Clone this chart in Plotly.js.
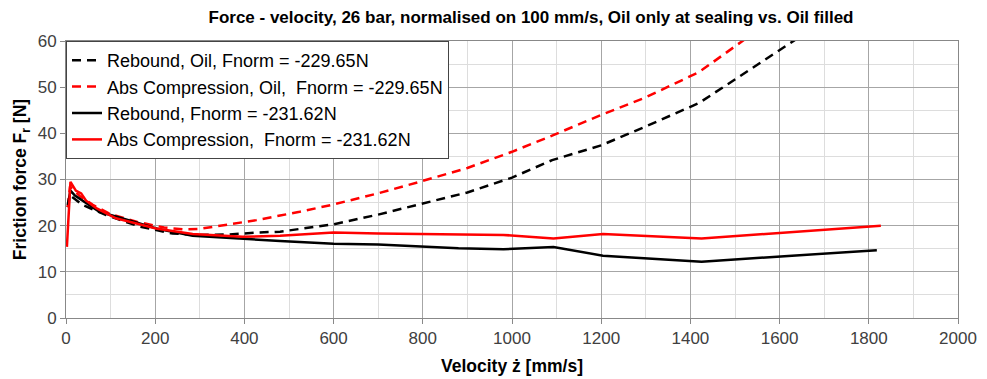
<!DOCTYPE html>
<html>
<head>
<meta charset="utf-8">
<script src="https://cdn.plot.ly/plotly-3.0.1.min.js"></script>
<style>html,body{margin:0;padding:0;background:#fff}#chart{width:987px;height:379px}</style>
</head>
<body>
<div id="chart"></div>
<script>
// Series names
const seriesNames = [
  "Rebound, Oil, Fnorm = -229.65N",
  "Abs Compression, Oil,  Fnorm = -229.65N",
  "Rebound, Fnorm = -231.62N",
  "Abs Compression,  Fnorm = -231.62N"
];

// Rebound, Oil (dashed black)
const reboundOilX = [4, 9, 37, 90, 165, 239, 300, 367, 427, 480, 600, 700, 800, 900, 1000, 1090, 1200, 1300, 1420, 1820];
const reboundOilY = [24.0, 26.6, 24.5, 22.3, 19.8, 18.3, 18.0, 18.1, 18.5, 18.7, 20.3, 22.4, 24.8, 27.2, 30.4, 34.2, 37.4, 41.5, 46.6, 72.0];

// Abs Compression, Oil (dashed red)
const compOilX = [4, 9, 30, 60, 100, 160, 220, 262, 300, 352, 427, 480, 524, 600, 700, 800, 900, 1000, 1090, 1200, 1300, 1420, 1820];
const compOilY = [24.0, 28.5, 26.5, 24.5, 22.5, 20.8, 19.6, 19.2, 19.3, 20.1, 21.2, 22.2, 23.0, 24.6, 27.0, 29.7, 32.5, 36.0, 39.5, 44.0, 47.8, 53.3, 81.0];

// Rebound (solid black)
const reboundX = [4, 10, 20, 40, 75, 150, 210, 284, 396, 480, 600, 700, 880, 981, 1093, 1204, 1425, 1818];
const reboundY = [24.5, 27.6, 26.5, 25.2, 23.0, 20.9, 19.2, 17.8, 17.1, 16.7, 16.1, 15.9, 15.1, 14.9, 15.4, 13.5, 12.2, 14.7];

// Abs Compression (solid red)
const compX = [2, 10, 22, 34, 45, 68, 112, 157, 202, 284, 396, 480, 600, 700, 981, 1093, 1204, 1425, 1827];
const compY = [15.4, 29.5, 27.6, 27.0, 25.4, 23.8, 21.6, 20.5, 19.4, 18.2, 17.6, 17.8, 18.5, 18.3, 18.0, 17.2, 18.2, 17.2, 20.0];

const traces = [
  {x: reboundOilX, y: reboundOilY, name: seriesNames[0], mode: 'lines',
   line: {color: '#000000', width: 2.5, dash: '9px,6px'}},
  {x: compOilX, y: compOilY, name: seriesNames[1], mode: 'lines',
   line: {color: '#ff0000', width: 2.5, dash: '9px,6px'}},
  {x: reboundX, y: reboundY, name: seriesNames[2], mode: 'lines',
   line: {color: '#000000', width: 2.5}},
  {x: compX, y: compY, name: seriesNames[3], mode: 'lines',
   line: {color: '#ff0000', width: 2.5}}
];

const layout = {
  width: 987, height: 379,
  margin: {l: 66, r: 29, t: 41, b: 61},
  paper_bgcolor: '#ffffff', plot_bgcolor: '#ffffff',
  font: {family: 'Arial, "Liberation Sans", sans-serif', color: '#222'},
  title: {text: '<b>Force - velocity, 26 bar, normalised on 100 mm/s, Oil only at sealing vs. Oil filled</b>',
          font: {size: 17, color: '#000'}, x: 0.538, xanchor: 'center', y: 0.955, yanchor: 'middle'},
  xaxis: {
    range: [0, 2000], dtick: 200, tick0: 0, autorange: false,
    showgrid: true, gridcolor: '#a6a6a6', gridwidth: 1,
    minor: {dtick: 100, showgrid: true, gridcolor: '#dddddd', gridwidth: 1},
    showline: true, linecolor: '#888', linewidth: 1, mirror: true,
    ticks: 'outside', ticklen: 5, tickcolor: '#888',
    zeroline: false,
    tickfont: {size: 17, color: '#404040'},
    title: {text: '<b>Velocity ż [mm/s]</b>', font: {size: 17.5, color: '#000'}, standoff: 12}
  },
  yaxis: {
    range: [0, 60], dtick: 10, tick0: 0, autorange: false,
    showgrid: true, gridcolor: '#a6a6a6', gridwidth: 1,
    minor: {dtick: 5, showgrid: true, gridcolor: '#dddddd', gridwidth: 1},
    showline: true, linecolor: '#888', linewidth: 1, mirror: true,
    ticks: 'outside', ticklen: 5, tickcolor: '#888',
    zeroline: false,
    tickfont: {size: 17, color: '#404040'},
    title: {text: '<b>Friction force F<sub>r</sub> [N]</b>', font: {size: 17.5, color: '#000'}, standoff: 6}
  },
  legend: {
    x: 0, y: 1, xanchor: 'left', yanchor: 'top',
    bgcolor: '#ffffff', bordercolor: '#444', borderwidth: 1,
    font: {size: 18, color: '#000'},
    itemwidth: 30,
    tracegroupgap: 0
  },
  showlegend: true
};

Plotly.newPlot('chart', traces, layout, {displayModeBar: false, staticPlot: true});
</script>
</body>
</html>
